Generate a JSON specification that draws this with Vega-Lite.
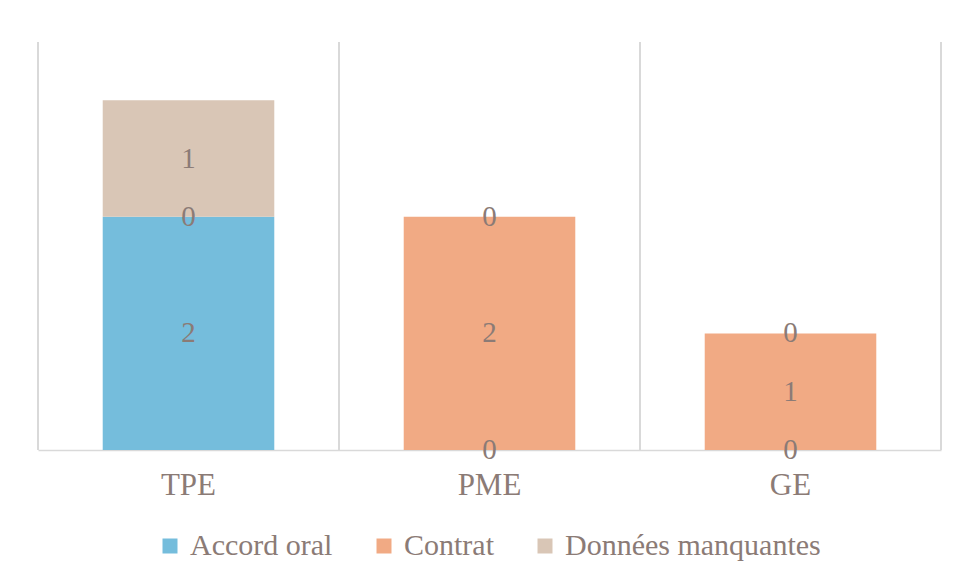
{
  "$schema": "https://vega.github.io/schema/vega-lite/v6.json",
  "width": 903,
  "height": 408,
  "autosize": "none",
  "padding": {"left": 38, "top": 42, "right": 17, "bottom": 133},
  "background": "white",
  "config": {
    "view": {"stroke": null},
    "font": "Liberation Serif",
    "axis": {"labelFont": "Liberation Serif"},
    "legend": {"labelFont": "Liberation Serif"},
    "text": {"font": "Liberation Serif"}
  },
  "data": {"values": [
    {"taille": "TPE", "serie": "Accord oral", "valeur": 2},
    {"taille": "TPE", "serie": "Contrat", "valeur": 0},
    {"taille": "TPE", "serie": "Données manquantes", "valeur": 1},
    {"taille": "PME", "serie": "Accord oral", "valeur": 0},
    {"taille": "PME", "serie": "Contrat", "valeur": 2},
    {"taille": "PME", "serie": "Données manquantes", "valeur": 0},
    {"taille": "GE", "serie": "Accord oral", "valeur": 0},
    {"taille": "GE", "serie": "Contrat", "valeur": 1},
    {"taille": "GE", "serie": "Données manquantes", "valeur": 0}
  ]},
  "encoding": {
    "x": {
      "field": "taille", "type": "nominal", "sort": ["TPE", "PME", "GE"],
      "scale": {"paddingInner": 0, "paddingOuter": 0},
      "axis": {"title": null, "labelAngle": 0, "grid": false, "ticks": false,
        "domainColor": "#D9D9D9", "domainWidth": 1.5,
        "labelFont": "Liberation Serif", "labelFontSize": 31, "labelColor": "#8B7B76", "labelPadding": 20}
    }
  },
  "layer": [
    {
      "mark": {"type": "rule", "color": "#D9D9D9", "strokeWidth": 1.5},
      "encoding": {"x": {"field": "taille", "type": "nominal", "sort": ["TPE", "PME", "GE"], "bandPosition": 0}}
    },
    {
      "mark": {"type": "rule", "color": "#D9D9D9", "strokeWidth": 1.5},
      "encoding": {"x": {"field": "taille", "type": "nominal", "sort": ["TPE", "PME", "GE"], "bandPosition": 1}}
    },
    {
      "mark": {"type": "bar", "width": {"band": 0.57}},
      "encoding": {
        "y": {"field": "valeur", "type": "quantitative", "stack": "zero",
          "scale": {"domain": [0, 3.5], "nice": false}, "axis": null},
        "color": {"field": "serie", "type": "nominal",
          "scale": {"domain": ["Accord oral", "Contrat", "Données manquantes"],
            "range": ["#75BDDC", "#F1AA84", "#D9C6B6"]},
          "legend": {"title": null, "orient": "none", "legendX": 117, "legendY": 489,
            "direction": "horizontal",
            "symbolType": "square", "symbolSize": 225, "symbolStrokeWidth": 0,
            "labelFont": "Liberation Serif", "labelFontSize": 30, "labelColor": "#8B7B76",
            "labelOffset": 5, "labelLimit": 400, "columnPadding": 36}},
        "order": {"field": "serie", "sort": "ascending"}
      }
    },
    {
      "mark": {"type": "text", "font": "Liberation Serif", "fontSize": 29, "color": "#8B7B76", "baseline": "middle"},
      "encoding": {
        "y": {"field": "valeur", "type": "quantitative", "stack": "zero", "bandPosition": 0.5},
        "text": {"field": "valeur", "type": "quantitative"},
        "detail": {"field": "serie"},
        "order": {"field": "serie", "sort": "ascending"}
      }
    }
  ]
}
